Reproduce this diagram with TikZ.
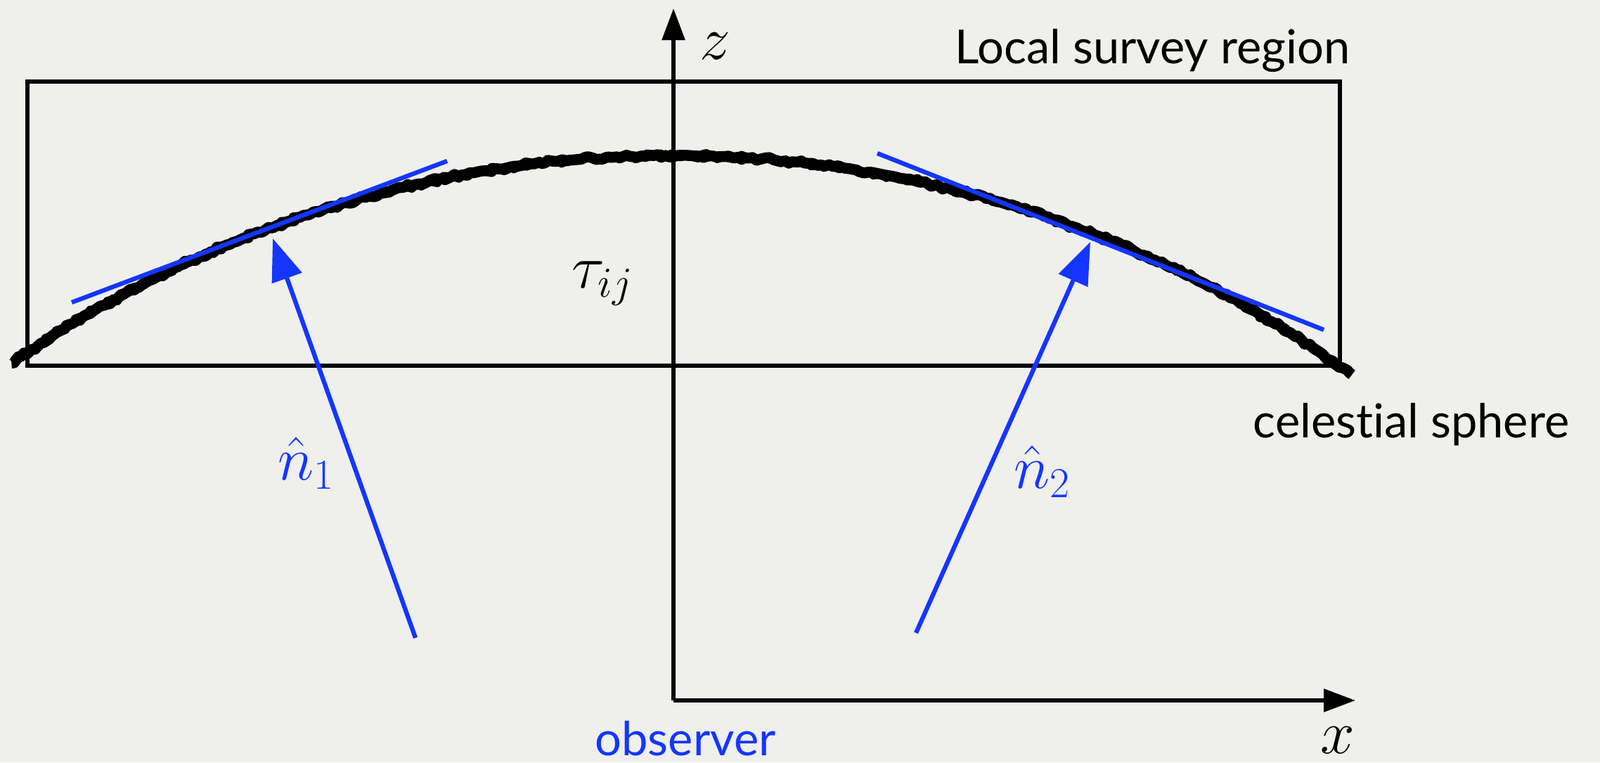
\documentclass[tikz,border=0pt]{standalone}
\usepackage{fontspec}
\setmainfont{Lato}[Ligatures=NoCommon]
\usepackage{xcolor}
\definecolor{azulObs}{HTML}{1436FF}
\definecolor{papel}{HTML}{EFEFEC}
\usepackage{tikz}
\usetikzlibrary{arrows.meta,decorations.pathmorphing}

\tikzset{
  eje/.style={line width=1.6pt,-{Triangle[length=4.5mm,width=3.2mm]}},
  tangente/.style={azulObs,line width=1.8pt},
  direccion/.style={azulObs,line width=1.8pt,-{Triangle[length=6mm,width=4.4mm]}},
  rotulo/.style={font=\fontsize{19}{22}\selectfont},
  simbolo/.style={font=\fontsize{24}{28}\selectfont},
  esfera/.style={line width=4.4pt,line join=round,decorate,
    decoration={random steps,segment length=1.5pt,amplitude=0.8pt}},
}

\begin{document}
\begin{tikzpicture}[x=1cm,y=1cm]

% Fondo
\fill[papel] (0,0) rectangle (22.76,10.84);
\useasboundingbox (0,0) rectangle (22.76,10.84);

% Region local
\draw[line width=1.6pt] (0.39,5.64) rectangle (19.06,9.68);

% Esfera celeste
\draw[esfera] plot[domain=124.8:54.2,samples=120]
    ({9.58+16.5*cos(\x)},{-7.87+16.5*sin(\x)});
\draw[esfera,line width=3.2pt,decoration={random steps,segment length=2pt,amplitude=1.4pt}]
    plot[domain=124.6:54.4,samples=120]
    ({9.58+16.5*cos(\x)},{-7.87+16.5*sin(\x)});

% Ejes
\coordinate (O) at (9.58,0.88);
\coordinate (ztip) at (9.58,10.72);
\coordinate (xtip) at (19.28,0.88);
\draw[eje] (O) -- (ztip);
\draw[eje] (O) -- (xtip);

% Tangentes
\coordinate (t1a) at (1.02,6.54);
\coordinate (t1b) at (6.36,8.55);
\coordinate (t2a) at (12.48,8.66);
\coordinate (t2b) at (18.83,6.15);
\draw[tangente] (t1a) -- (t1b);
\draw[tangente] (t2a) -- (t2b);

% Direcciones
\coordinate (n1ini) at (5.91,1.77);
\coordinate (n1fin) at (3.88,7.45);
\coordinate (n2ini) at (13.03,1.84);
\coordinate (n2fin) at (15.51,7.40);
\draw[direccion] (n1ini) -- (n1fin);
\draw[direccion] (n2ini) -- (n2fin);

% Etiquetas
\node[simbolo,anchor=base west,inner sep=0pt] (zlab) at (9.95,10.0) {$z$};
\node[simbolo,anchor=base east,inner sep=0pt] (xlab) at (19.28,0.13) {$x$};
\node[rotulo,anchor=base east,inner sep=0pt] (region) at (19.21,9.94)
    {Local survey region};
\node[rotulo,anchor=base east,inner sep=0pt] (esf) at (22.33,4.62)
    {celestial sphere};
\node[rotulo,anchor=base west,inner sep=0pt,azulObs] (obs) at (8.46,0.1)
    {observer};
\node[simbolo,anchor=base west,inner sep=0pt] (tau) at (8.13,6.75) {$\tau_{ij}$};
\node[simbolo,anchor=base west,inner sep=0pt,azulObs] (n1) at (3.95,4.02) {$\hat{n}_1$};
\node[simbolo,anchor=base west,inner sep=0pt,azulObs] (n2) at (14.42,3.90) {$\hat{n}_2$};

\end{tikzpicture}
\end{document}
